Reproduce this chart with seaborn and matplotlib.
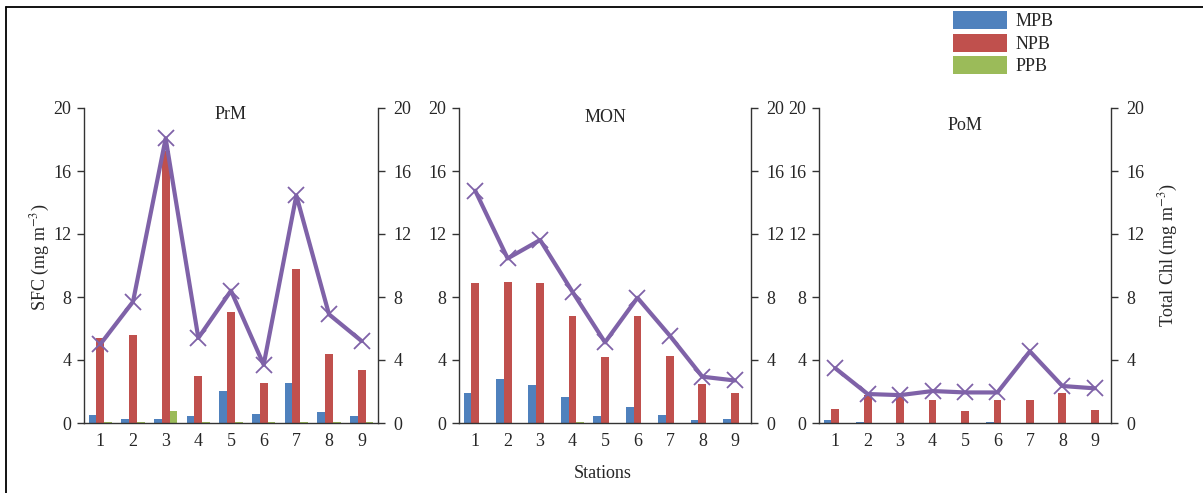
import numpy as np
import pandas as pd
import matplotlib
matplotlib.use("Agg")
import matplotlib.pyplot as plt
from matplotlib.patches import Patch
from matplotlib.lines import Line2D
import seaborn as sns

stations = ["1", "2", "3", "4", "5", "6", "7", "8", "9"]
groups = ["MPB", "NPB", "PPB"]
seasons = ["PrM", "MON", "PoM"]

prm_mpb = [0.5, 0.28, 0.25, 0.42, 2.05, 0.57, 2.52, 0.72, 0.42]
prm_npb = [5.4, 5.57, 17.3, 3.0, 7.05, 2.54, 9.8, 4.39, 3.39]
prm_ppb = [0.05, 0.05, 0.75, 0.05, 0.05, 0.05, 0.05, 0.05, 0.05]
prm_chl = [5.0, 7.7, 18.07, 5.4, 8.4, 3.7, 14.45, 6.9, 5.2]

mon_mpb = [1.92, 2.77, 2.39, 1.68, 0.43, 1.04, 0.51, 0.17, 0.26]
mon_npb = [8.9, 8.98, 8.9, 6.82, 4.16, 6.82, 4.26, 2.45, 1.9]
mon_ppb = [0.0, 0.0, 0.0, 0.06, 0.0, 0.0, 0.0, 0.0, 0.0]
mon_chl = [14.75, 10.45, 11.62, 8.32, 5.12, 7.95, 5.54, 2.94, 2.7]

pom_mpb = [0.17, 0.06, 0.0, 0.0, 0.0, 0.05, 0.0, 0.0, 0.0]
pom_npb = [0.92, 1.77, 1.67, 1.47, 0.75, 1.45, 1.45, 1.88, 0.85]
pom_ppb = [0.0, 0.0, 0.0, 0.0, 0.0, 0.0, 0.0, 0.0, 0.0]
pom_chl = [3.48, 1.84, 1.77, 2.03, 1.94, 1.94, 4.55, 2.35, 2.2]

y_ticks = [0, 4, 8, 12, 16, 20]

colors = {"MPB": "#4F81BD", "NPB": "#C0504D", "PPB": "#9BBB59"}
line_color = "#7F62A8"

sns.set_style("white")
plt.rcParams["font.family"] = ["Liberation Serif", "DejaVu Serif"]
plt.rcParams["mathtext.fontset"] = "stix"

W, H = 1203, 493
fig = plt.figure(figsize=(W / 100, H / 100), dpi=100)

season_data = {
    "PrM": (prm_mpb, prm_npb, prm_ppb, prm_chl),
    "MON": (mon_mpb, mon_npb, mon_ppb, mon_chl),
    "PoM": (pom_mpb, pom_npb, pom_ppb, pom_chl),
}

lefts = [84, 459, 819]
widths = [294, 292, 292]
top_px, bot_px = 108, 423
title_y = [0.978, 0.971, 0.943]
fs = 13
tc = "#333333"

for i, season in enumerate(seasons):
    mpb, npb, ppb, chl = season_data[season]
    df = pd.DataFrame({
        "station": stations * 3,
        "value": mpb + npb + ppb,
        "group": [g for g in groups for _ in stations],
    })
    ax = fig.add_axes([lefts[i] / W, 1 - bot_px / H, widths[i] / W, (bot_px - top_px) / H])
    sns.barplot(data=df, x="station", y="value", hue="group", order=stations,
                hue_order=groups, palette=colors, width=0.72, saturation=1,
                linewidth=0, ax=ax, legend=False)
    ax.set_xlim(-0.5, len(stations) - 0.5)
    ax.set_ylim(0, 20)
    ax.set_yticks(y_ticks)
    ax.set_xlabel("")
    ax.set_ylabel("")
    ax.set_xticks(np.arange(len(stations)))
    ax.set_xticklabels(stations)
    ax.set_xticks(np.arange(len(stations) + 1) - 0.5, minor=True)
    ax.tick_params(axis="x", which="major", length=0, labelsize=fs, pad=7)
    ax.tick_params(axis="x", which="minor", length=5, width=1, direction="out", color=tc)
    ax.tick_params(axis="y", length=5, width=1, direction="out", labelsize=fs, color=tc, pad=4)
    for s in ["left", "bottom"]:
        ax.spines[s].set_visible(True)
        ax.spines[s].set_color(tc)
        ax.spines[s].set_linewidth(1)
    ax.spines["top"].set_visible(False)
    ax.spines["right"].set_visible(False)

    ax2 = ax.twinx()
    sns.lineplot(x=np.arange(len(stations)), y=chl, ax=ax2, color=line_color,
                 linewidth=3, marker="x", markersize=11, markeredgewidth=1.3,
                 markeredgecolor=line_color)
    ax2.set_ylim(0, 20)
    ax2.set_yticks(y_ticks)
    ax2.set_xlim(-0.5, len(stations) - 0.5)
    ax2.tick_params(axis="y", length=5, width=1, direction="out", labelsize=fs, color=tc, pad=6)
    for s in ["left", "bottom", "top"]:
        ax2.spines[s].set_visible(False)
    ax2.spines["right"].set_visible(True)
    ax2.spines["right"].set_color(tc)
    ax2.spines["right"].set_linewidth(1)
    ax2.set_ylabel("")

    ax.text(0.5, title_y[i], season, transform=ax.transAxes,
            ha="center", va="center", fontsize=fs)

fig.text(40 / W, 1 - 257 / H, "SFC (mg m$^{-3}$)", rotation=90,
         ha="center", va="center", fontsize=fs)
fig.text(1168 / W, 1 - 255 / H, "Total Chl (mg m$^{-3}$)", rotation=90,
         ha="center", va="center", fontsize=fs)
fig.text(603 / W, 1 - 474 / H, "Stations", ha="center", va="center", fontsize=fs)

handles = [Patch(facecolor=colors[g], edgecolor="none", label=g) for g in groups]
fig.legend(handles=handles, loc="upper left", bbox_to_anchor=(953 / W, 1 - 11 / H),
           frameon=False, fontsize=fs, handlelength=3.0, handleheight=1.15,
           labelspacing=0.2, handletextpad=0.45, borderaxespad=0, borderpad=0)

fig.add_artist(Line2D([6 / W, 6 / W], [0, 1 - 7 / H], transform=fig.transFigure,
                      color="black", linewidth=1.3))
fig.add_artist(Line2D([6 / W, 1], [1 - 7 / H, 1 - 7 / H], transform=fig.transFigure,
                      color="black", linewidth=1.3))

fig.savefig("out.png", dpi=100)
